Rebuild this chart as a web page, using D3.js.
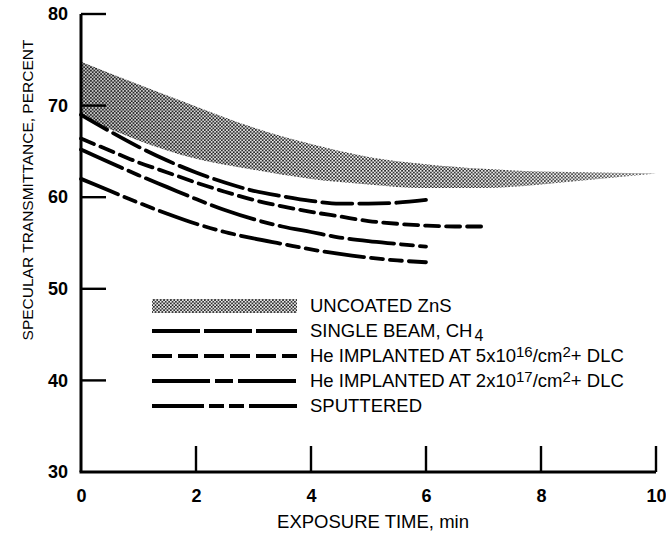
<!DOCTYPE html>
<html><head><meta charset="utf-8">
<script src="https://cdn.jsdelivr.net/npm/d3@7"></script>
<style>
html,body{margin:0;padding:0;background:#fff;}
svg{display:block;font-family:"Liberation Sans",Arial,Helvetica,sans-serif;}
</style></head>
<body>
<svg id="c" width="666" height="536"></svg>
<script>
// ---- data ----
const xTicks = [0, 2, 4, 6, 8, 10];
const yTicks = [30, 40, 50, 60, 70, 80];
const bandT = [0, 1, 2, 3, 4, 5, 6, 7, 8, 9, 10];
const bandUpper = [74.8, 72.3, 69.9, 67.6, 65.8, 64.4, 63.6, 63.1, 62.8, 62.7, 62.6];
const bandLower = [68.8, 66.2, 64.2, 63.0, 62.0, 61.4, 61.0, 61.0, 61.4, 62.0, 62.6];
const tHalf = [0, 0.5, 1, 1.5, 2, 2.5, 3, 3.5, 4, 4.5, 5, 5.5, 6];
const tHalf7 = [0, 0.5, 1, 1.5, 2, 2.5, 3, 3.5, 4, 4.5, 5, 5.5, 6, 6.5, 7];
const singleBeam = [69.0, 67.2, 65.5, 64.0, 62.7, 61.6, 60.7, 60.1, 59.6, 59.3, 59.3, 59.4, 59.7];
const he5e16 = [66.4, 65.1, 63.8, 62.7, 61.6, 60.6, 59.7, 59.0, 58.4, 57.9, 57.4, 57.1, 56.9, 56.8, 56.8];
const he2e17 = [65.2, 63.8, 62.4, 61.1, 59.8, 58.6, 57.6, 56.8, 56.2, 55.6, 55.2, 54.9, 54.6];
const sputtered = [62.0, 60.7, 59.4, 58.2, 57.1, 56.2, 55.5, 54.9, 54.3, 53.8, 53.4, 53.1, 52.9];
const seriesNames = ["SINGLE BEAM", "He 5e16", "He 2e17", "SPUTTERED"];

const svg = d3.select("#c");
const x = d3.scaleLinear().domain([0, 10]).range([81, 656]);
const y = d3.scaleLinear().domain([30, 80]).range([472, 14]);

// stipple pattern
const defs = svg.append("defs");
const pat = defs.append("pattern").attr("id", "stip").attr("patternUnits", "userSpaceOnUse")
  .attr("width", 3.4).attr("height", 3.4);
pat.append("rect").attr("width", 3.4).attr("height", 3.4).attr("fill", "#fff");
pat.append("circle").attr("cx", 0.85).attr("cy", 0.85).attr("r", 0.95).attr("fill", "#1a1a1a");
pat.append("circle").attr("cx", 2.55).attr("cy", 2.55).attr("r", 0.95).attr("fill", "#1a1a1a");
const grad = defs.append("linearGradient").attr("id", "shade").attr("gradientUnits", "userSpaceOnUse")
  .attr("x1", x(0)).attr("x2", x(10)).attr("y1", 0).attr("y2", 0);
grad.append("stop").attr("offset", 0).attr("stop-color", "#000").attr("stop-opacity", 0.22);
grad.append("stop").attr("offset", 0.45).attr("stop-color", "#000").attr("stop-opacity", 0.05);
grad.append("stop").attr("offset", 1).attr("stop-color", "#fff").attr("stop-opacity", 0.25);

// band
const bandData = bandT.map((t, i) => ({t, u: bandUpper[i], l: bandLower[i]}));
const area = d3.area().x(d => x(d.t)).y0(d => y(d.l)).y1(d => y(d.u)).curve(d3.curveMonotoneX);
svg.append("path").datum(bandData).attr("d", area).attr("fill", "url(#stip)");
svg.append("path").datum(bandData).attr("d", area).attr("fill", "url(#shade)");

// lines
const dashes = ["30,7", "14,7", "45,7,12,7", "40,7,12,7,12,7"];
const series = [
  {ts: tHalf, vs: singleBeam},
  {ts: tHalf7, vs: he5e16},
  {ts: tHalf, vs: he2e17},
  {ts: tHalf, vs: sputtered}
];
const line = d3.line().x(d => x(d[0])).y(d => y(d[1])).curve(d3.curveMonotoneX);
series.forEach((s, i) => {
  svg.append("path").datum(s.ts.map((t, j) => [t, s.vs[j]]))
    .attr("d", line).attr("fill", "none").attr("stroke", "#000")
    .attr("stroke-width", 3.8).attr("stroke-dasharray", dashes[i]).attr("stroke-linecap", "round");
});

// axes
const xAxis = d3.axisBottom(x).tickValues(xTicks).tickSize(0).tickPadding(17).tickFormat(d3.format("d"));
const gx = svg.append("g").attr("transform", `translate(0,${y(30)})`).call(xAxis);
const yAxis = d3.axisLeft(y).tickValues(yTicks).tickSize(0).tickPadding(13).tickFormat(d3.format("d"));
const gy = svg.append("g").attr("transform", `translate(${x(0)},0)`).call(yAxis);
[gx, gy].forEach(g => {
  g.select(".domain").remove();
  g.selectAll("text").attr("font-size", 18).attr("font-weight", "bold")
    .attr("font-family", "Liberation Sans, Arial, sans-serif").attr("fill", "#000");
});
gx.selectAll("text").attr("dy", "0.71em");
// axis lines
svg.append("line").attr("x1", x(0)).attr("x2", x(0)).attr("y1", y(80)).attr("y2", y(30))
  .attr("stroke", "#000").attr("stroke-width", 3);
svg.append("line").attr("x1", x(0) - 1.5).attr("x2", x(10)).attr("y1", y(30)).attr("y2", y(30))
  .attr("stroke", "#000").attr("stroke-width", 3);
// inward ticks
svg.selectAll(".ytk").data(yTicks.filter(v => v > 30)).enter().append("line")
  .attr("x1", x(0)).attr("x2", x(0) + 25).attr("y1", d => y(d)).attr("y2", d => y(d))
  .attr("stroke", "#000").attr("stroke-width", 2.4);
svg.selectAll(".xtk").data(xTicks.filter(v => v > 0)).enter().append("line")
  .attr("x1", d => x(d)).attr("x2", d => x(d)).attr("y1", y(30)).attr("y2", y(30) - 26)
  .attr("stroke", "#000").attr("stroke-width", 2.4);

// axis titles
svg.append("text").attr("transform", `translate(33,190) rotate(-90)`)
  .attr("text-anchor", "middle").attr("font-size", 15.5).attr("fill", "#000")
  .text("SPECULAR TRANSMITTANCE, PERCENT");
svg.append("text").attr("x", 373).attr("y", 528).attr("text-anchor", "middle")
  .attr("font-size", 18.5).attr("fill", "#000").text("EXPOSURE TIME, min");

// legend
const legRows = [306, 331, 356, 381, 406];
const lx0 = 152, lx1 = 297, tx = 310;
svg.append("rect").attr("x", lx0).attr("y", legRows[0] - 7).attr("width", lx1 - lx0).attr("height", 14)
  .attr("fill", "url(#stip)");
svg.append("rect").attr("x", lx0).attr("y", legRows[0] - 7).attr("width", lx1 - lx0).attr("height", 14)
  .attr("fill", "#000").attr("opacity", 0.08);
const legDash = ["48,4", "20,6", "58,5,18,5", "52,5,15,5,15,5"];
series.forEach((s, i) => {
  svg.append("line").attr("x1", lx0).attr("x2", lx1).attr("y1", legRows[i + 1]).attr("y2", legRows[i + 1])
    .attr("stroke", "#000").attr("stroke-width", 3.8).attr("stroke-dasharray", legDash[i]);
});
const lt = (row) => svg.append("text").attr("x", tx).attr("y", legRows[row] + 6)
  .attr("font-size", 18.5).attr("fill", "#000");
lt(0).text("UNCOATED ZnS");
const t1 = lt(1); t1.append("tspan").text("SINGLE BEAM, CH"); t1.append("tspan").attr("dx", 2).attr("dy", 4).attr("font-size", 16).text("4");
const t2 = lt(2); t2.append("tspan").text("He IMPLANTED AT 5x10");
t2.append("tspan").attr("dy", -5).attr("font-size", 15).text("16");
t2.append("tspan").attr("dy", 5).text("/cm");
t2.append("tspan").attr("dy", -5).attr("font-size", 15).text("2");
t2.append("tspan").attr("dy", 5).text("+ DLC");
const t3 = lt(3); t3.append("tspan").text("He IMPLANTED AT 2x10");
t3.append("tspan").attr("dy", -5).attr("font-size", 15).text("17");
t3.append("tspan").attr("dy", 5).text("/cm");
t3.append("tspan").attr("dy", -5).attr("font-size", 15).text("2");
t3.append("tspan").attr("dy", 5).text("+ DLC");
lt(4).text("SPUTTERED");
</script>
</body></html>
